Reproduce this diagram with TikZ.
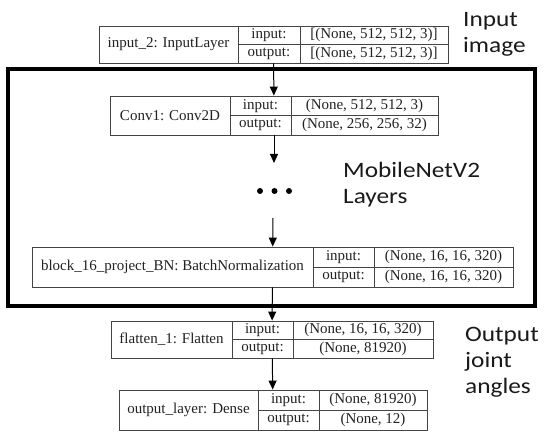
\documentclass[tikz,border=0pt]{standalone}
\usepackage{fontspec}
\setmainfont{Liberation Serif}
\newfontfamily\carlito[FakeStretch=1.15]{Carlito}
\usetikzlibrary{arrows.meta}
\definecolor{boxline}{HTML}{444444}
\definecolor{boxtext}{HTML}{222222}
\definecolor{notetext}{HTML}{1A1A1A}
\tikzset{
  cellbox/.style={draw=boxline, line width=0.9pt, rectangle, inner sep=0pt,
    text=boxtext, font=\fontsize{15}{18}\selectfont},
  arr/.style={-{Triangle[width=8pt,length=9pt]}, line width=1pt, draw=black},
  note/.style={anchor=north west, inner sep=0pt, align=left, text=notetext,
    font=\carlito\fontsize{22}{26}\selectfont},
  bigframe/.style={draw=black, line width=4pt, rectangle, inner sep=0pt},
  dotmark/.style={circle, fill=black, inner sep=0pt, minimum size=6pt}
}
\newcommand\layerbox[9]{%
  \def\lbid{#1}\def\lbL{#2}\def\lbA{#3}\def\lbB{#4}\def\lbR{#5}%
  \def\lbT{#6}\def\lbD{#7}\def\lbname{#8}\def\lbin{#9}\layerboxfinish}
\newcommand\layerboxfinish[1]{%
  \pgfmathsetmacro\lbM{(\lbT+\lbD)/2}%
  \pgfmathsetmacro\lbW{\lbR-\lbL}%
  \pgfmathsetmacro\lbH{\lbD-\lbT}%
  \pgfmathsetmacro\lbCx{(\lbL+\lbR)/2}%
  \pgfmathsetmacro\lbCy{(\lbT+\lbD)/2}%
  \pgfmathsetmacro\wN{\lbA-\lbL}%
  \pgfmathsetmacro\cN{(\lbL+\lbA)/2}%
  \pgfmathsetmacro\wI{\lbB-\lbA}%
  \pgfmathsetmacro\cI{(\lbA+\lbB)/2}%
  \pgfmathsetmacro\hU{\lbM-\lbT}%
  \pgfmathsetmacro\hDn{\lbD-\lbM}%
  \pgfmathsetmacro\yU{(\lbT+\lbM)/2}%
  \pgfmathsetmacro\yD{(\lbM+\lbD)/2}%
  \pgfmathsetmacro\wV{\lbR-\lbB}%
  \pgfmathsetmacro\cV{(\lbB+\lbR)/2}%
  \node[cellbox, minimum width=\lbW pt, minimum height=\lbH pt] (\lbid) at (\lbCx,\lbCy) {};
  \node[cellbox, minimum width=\wN pt, minimum height=\lbH pt] (\lbid-name) at (\cN,\lbCy) {\lbname};
  \node[cellbox, minimum width=\wI pt, minimum height=\hU pt] (\lbid-inl) at (\cI,\yU) {input:};
  \node[cellbox, minimum width=\wI pt, minimum height=\hDn pt] (\lbid-outl) at (\cI,\yD) {output:};
  \node[cellbox, minimum width=\wV pt, minimum height=\hU pt] (\lbid-inv) at (\cV,\yU) {\lbin};
  \node[cellbox, minimum width=\wV pt, minimum height=\hDn pt] (\lbid-outv) at (\cV,\yD) {#1};
}
\begin{document}
\begin{tikzpicture}[x=1pt,y=-1pt]
\fill[white] (0,0) rectangle (550,441);
\useasboundingbox (0,0) rectangle (550,441);

% MobileNetV2 frame
\node[bigframe, minimum width=527pt, minimum height=237pt] (frame) at (271.5,187.5) {};

% layer boxes
\layerbox{inp}{99}{238}{300}{448}{26}{63}{input\_2: InputLayer}{[(None, 512, 512, 3)]}{[(None, 512, 512, 3)]}
\layerbox{conv}{110}{230}{291}{438}{96}{135}{Conv1: Conv2D}{(None, 512, 512, 3)}{(None, 256, 256, 32)}
\layerbox{bn}{32}{313}{374}{513}{247}{287}{block\_16\_project\_BN: BatchNormalization}{(None, 16, 16, 320)}{(None, 16, 16, 320)}
\layerbox{flat}{111}{232}{293}{433}{321}{358}{flatten\_1: Flatten}{(None, 16, 16, 320)}{(None, 81920)}
\layerbox{dense}{119}{258}{319}{427}{390}{430}{output\_layer: Dense}{(None, 81920)}{(None, 12)}

% dots
\node[dotmark] (dotA) at (260,191) {};
\node[dotmark] (dotB) at (274.5,191) {};
\node[dotmark] (dotC) at (289,191) {};
\coordinate (gapTop) at (274,163);
\coordinate (gapBot) at (273,218);

% connectors
\draw[arr] (inp) -- (conv);
\draw[arr] (conv) -- (gapTop);
\draw[arr] (gapBot) -- (bn);
\draw[arr] (bn) -- (flat);
\draw[arr] (flat) -- (dense);

% annotations
\node[note] (lblInput) at (463,12) {Input\\image};
\node[note] (lblMobile) at (343,162) {MobileNetV2\\Layers};
\node[note] (lblOutput) at (465,327) {Output\\joint\\angles};
\end{tikzpicture}
\end{document}
